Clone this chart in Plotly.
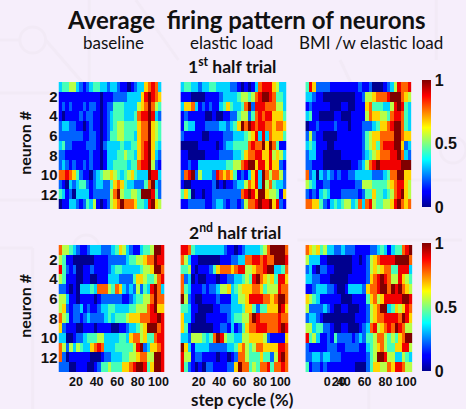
import plotly.graph_objects as go

W, H = 466, 409

# Firing rates, one string per neuron, digit d means d/9 of the colour scale.
baseline_1st = [
"34455 32123 44332 33211 01233 67873",
"11111 11111 11011 12222 33336 89876",
"12121 11212 21012 24443 33356 79754",
"10111 12122 11012 34443 33478 89832",
"23322 11012 11012 34554 44467 79654",
"22222 22112 21012 44554 44367 79654",
"34221 11122 21023 33343 34467 89643",
"22111 11112 11013 33445 44367 89632",
"23212 11212 11013 34444 34478 89521",
"77876 42110 23455 65434 56433 39883",
"21032 34421 23322 46764 33222 47932",
"43120 33331 22222 57954 45549 99842",
"01133 21243 51012 56797 77644 38965",
]
elastic_1st = [
"34433 23344 33332 21010 13788 86533",
"11100 00111 12333 34554 57899 87443",
"36673 12121 13464 33479 28887 77553",
"12111 11001 00112 24552 47878 86664",
"14331 11222 23323 46979 87887 76776",
"21111 10011 11222 33345 68383 76664",
"00000 11111 01233 44447 87796 97411",
"11000 00111 12222 33467 78866 85653",
"11211 33333 33344 55789 96886 86621",
"27892 53332 87676 41213 68397 57752",
"10011 11112 01011 23357 68395 74332",
"46401 10112 22222 22789 86996 55416",
"11222 22112 33212 21257 78988 96821",
]
bmi_1st = [
"48622 22111 11111 21120 00123 58778",
"33211 00000 00001 12556 77789 99765",
"12111 11000 11001 11674 44335 89843",
"34110 00011 00011 11576 65547 88743",
"01121 11121 11011 12223 46678 99743",
"25211 00001 11111 12456 67777 99766",
"34311 10011 11111 12456 47888 99623",
"23311 00000 11111 12345 67778 89732",
"22111 00000 00011 23578 98888 88999",
"72303 23212 11223 33332 22347 79966",
"54311 22111 11112 25554 44456 78865",
"21213 43111 22222 12446 44345 78965",
"77664 21343 45534 73785 44556 89767",
]
baseline_2nd = [
"75543 21123 33222 34653 21134 45998",
"54110 00000 11112 22223 44556 77988",
"84212 00112 11112 34433 33345 56997",
"54111 00110 01113 33222 24665 44578",
"22101 03334 37775 47632 32524 38973",
"55311 01111 01222 22211 23445 57977",
"56212 23121 12334 43333 44555 78966",
"75412 21232 22234 34445 66677 78898",
"62111 00111 01111 00112 33456 99978",
"33001 22344 45533 33443 67756 44788",
"75253 54336 78733 34444 45892 36678",
"72011 11110 00122 33344 55677 55998",
"22200 11100 12445 44466 78998 46998",
]
elastic_2nd = [
"88743 33333 33211 01233 33457 99997",
"75311 00000 01112 23377 88787 79998",
"44510 11124 67776 78855 67789 93347",
"72301 00111 01122 33454 89765 64886",
"74311 12122 35563 45666 77645 55877",
"95210 01111 21113 35568 88877 67997",
"44311 00001 12223 33466 42446 66986",
"63310 00111 11123 44557 98777 77877",
"64100 00001 12213 12467 78887 77898",
"33255 54347 98544 33556 66652 11116",
"96313 33322 22233 46754 57766 66887",
"85512 21111 01101 27754 44644 25897",
"84210 10221 11122 69774 54778 47787",
]
bmi_2nd = [
"76564 53322 32221 11122 34313 44789",
"53331 10000 00011 01256 78888 99997",
"23102 21100 00011 11256 56774 48883",
"33221 11000 00111 11267 89875 58654",
"11233 32210 01333 32677 89979 89765",
"65431 11111 00011 11467 56888 88998",
"52222 32100 11000 11256 79934 65687",
"23321 00000 00001 11256 77888 87986",
"55344 22100 11000 12378 56787 98755",
"84531 12142 22212 32445 77545 46799",
"21111 12221 12222 11345 67544 66885",
"22332 33222 11111 11245 99855 33543",
"41221 21111 11110 00246 65576 88755",
]

neuron_ticks = [2, 4, 6, 8, 10, 12]
cycle_ticks = [20, 40, 60, 80, 100]
cycle_labels = ["20", "40", "60", "80", "100"]
bmi_ticks = [24, 35, 40, 60, 80, 100]
bmi_labels = ["0", "20", "40", "60", "80", "100"]
cbar_ticks = [0, 0.5, 1]
cbar_labels = ["0", "0.5", "1"]

JET = [[0, "#00008f"], [0.11, "#0000ff"], [0.125, "#0000ff"], [0.375, "#00ffff"],
       [0.5, "#80ff80"], [0.625, "#ffff00"], [0.875, "#ff0000"], [1, "#800000"]]
BG = "#f6eefb"
FAINT = "#f2eaf6"
BOLD = dict(family="Liberation Sans", color="#111", weight="bold")


def decode(rows):
    return [[int(c) / 9 for c in r.replace(" ", "")] for r in rows]


# (data, left, right, top, bottom, x at left edge, x at right edge, x ticks, x labels, colorbar box)
panels = [
    (baseline_1st, 59, 163, 82, 209, 3, 106, [], [], None),
    (elastic_1st, 182, 289, 82, 209, 2, 107, [], [], None),
    (bmi_1st, 308, 415, 82, 209, 2, 104, [], [], (80, 207)),
    (baseline_2nd, 59, 166, 245, 372, 3, 106, cycle_ticks, cycle_labels, None),
    (elastic_2nd, 182, 291, 245, 372, 2, 108, cycle_ticks, cycle_labels, None),
    (bmi_2nd, 308, 416, 245, 372, 3, 106, bmi_ticks, bmi_labels, (243, 371)),
]

fig = go.Figure()
layout = {}
for i, (rows, l, r, t, b, x0, x1, xt, xl, cb) in enumerate(panels):
    n = i + 1
    z = decode(rows)
    ncol = len(z[0])
    xs = [x0 + (k + 0.5) * (x1 - x0) / ncol for k in range(ncol)]
    ys = list(range(1, len(z) + 1))
    kw = {}
    if cb:
        kw["colorbar"] = dict(
            x=426 / W, xanchor="left", thickness=9, thicknessmode="pixels",
            y=1 - cb[1] / H, yanchor="bottom", len=cb[1] - cb[0], lenmode="pixels",
            tickvals=cbar_ticks, ticktext=cbar_labels, ticks="", outlinewidth=0,
            tickfont=dict(size=16, **BOLD), ypad=0, xpad=0,
        )
    fig.add_trace(go.Heatmap(
        z=z, x=xs, y=ys, colorscale=JET, zmin=0, zmax=1, zsmooth=False,
        showscale=bool(cb), xaxis=f"x{n}", yaxis=f"y{n}", **kw))
    layout[f"xaxis{n}"] = dict(
        domain=[l / W, r / W], range=[x0, x1], anchor=f"y{n}", showgrid=False, zeroline=False,
        showline=False, ticks="", tickvals=xt, ticktext=xl, tickangle=0,
        tickfont=dict(size=12.5, **BOLD))
    first = i % 3 == 0
    layout[f"yaxis{n}"] = dict(
        domain=[1 - b / H, 1 - t / H], range=[13.5, 0.5], anchor=f"x{n}", showgrid=False,
        zeroline=False, showline=False, ticks="", tickvals=neuron_ticks if first else [],
        tickfont=dict(size=15, **BOLD))

FONT = "Lato"
texts = [
    ("<b>Average  firing pattern of neurons</b>", 249, 19, 24, 0),
    ("baseline", 114, 43, 17, 0),
    ("elastic load", 234, 43, 17, 0),
    ("BMI /w elastic load", 374, 43, 17, 0),
    ("<b>1<sup>st</sup> half trial</b>", 234, 66, 17.5, 0),
    ("<b>2<sup>nd</sup> half trial</b>", 237, 231, 17.5, 0),
    ("<b>neuron #</b>", 24, 143, 16, -90),
    ("<b>neuron #</b>", 24, 306, 16, -90),
    ("<b>step cycle (%)</b>", 245, 399, 17, 0),
]
ann = [dict(text=t, x=x / W, y=1 - y / H, xref="paper", yref="paper", xanchor="center",
            yanchor="middle", showarrow=False, textangle=a,
            font=dict(family=FONT, size=s, color="#111")) for t, x, y, s, a in texts]

# Faint backdrop of circuit-like lines behind the chart.
backdrop_lines = [(0, 40, 20, 40), (46, 40, 88, 88), (90, 0, 90, 90), (0, 93, 60, 93),
                  (0, 200, 60, 200), (0, 248, 33, 248), (33, 248, 33, 409),
                  (137, 0, 180, 60), (343, 60, 393, 165), (300, 180, 466, 180),
                  (300, 240, 466, 240), (372, 372, 372, 409), (440, 0, 440, 60)]
backdrop_circles = [(33, 40, 13), (87, 248, 13), (457, 150, 13)]
shapes = [dict(type="line", xref="paper", yref="paper", x0=a / W, y0=1 - b / H, x1=c / W, y1=1 - d / H,
               line=dict(color=FAINT, width=3), layer="below") for a, b, c, d in backdrop_lines]
shapes += [dict(type="circle", xref="paper", yref="paper", x0=(x - r) / W, x1=(x + r) / W,
                y0=1 - (y + r) / H, y1=1 - (y - r) / H, line=dict(color=FAINT, width=3),
                layer="below") for x, y, r in backdrop_circles]

fig.update_layout(width=W, height=H, margin=dict(l=0, r=0, t=0, b=0), paper_bgcolor=BG,
                  plot_bgcolor=BG, showlegend=False, annotations=ann, shapes=shapes, **layout)
fig.write_html("out.html", config=dict(displayModeBar=False),
               post_script="document.body.style.margin='0';document.body.style.background='%s';" % BG)
